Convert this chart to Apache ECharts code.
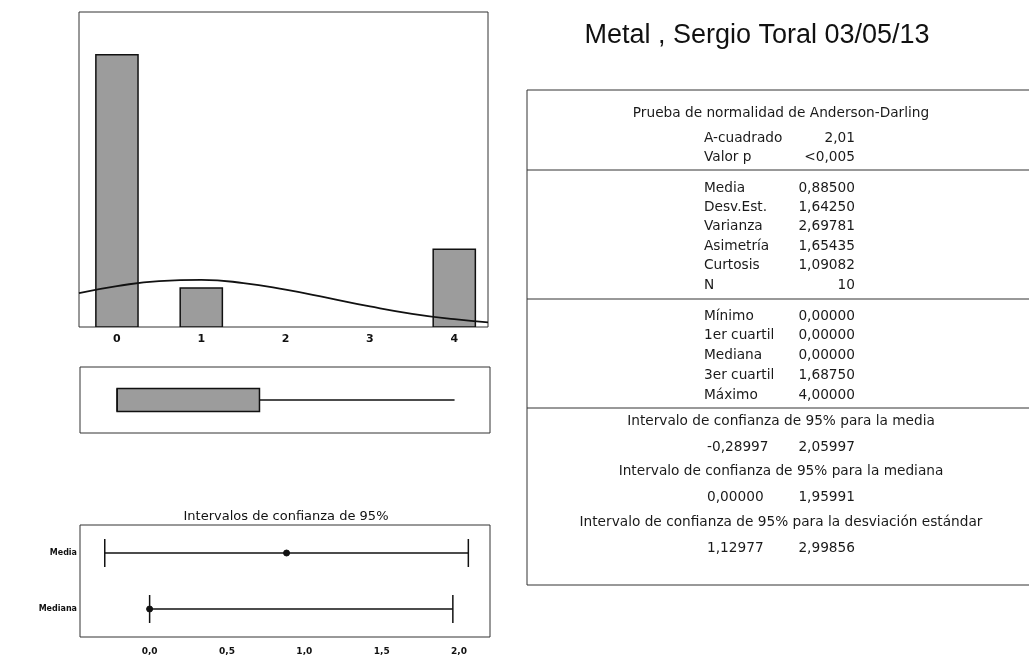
<!DOCTYPE html>
<html>
<head>
<meta charset="utf-8">
<script src="https://cdn.jsdelivr.net/npm/echarts@6/dist/echarts.min.js"></script>
<style>
  html, body { margin: 0; padding: 0; background: #ffffff; }
  #chart { width: 1029px; height: 672px; }
</style>
</head>
<body>
<div id="chart"></div>
<script>
// ---------- DATA ----------
const chartTitle = 'Metal , Sergio Toral 03/05/13';

// histogram bins: [start, end, count]
const binStart = [-0.25, 0.75, 3.75];
const binEnd   = [0.25, 1.25, 4.25];
const binCount = [7, 1, 2];
const histTicks = [0, 1, 2, 3, 4];

// fitted normal curve
const curveX = [-0.45, 0, 0.5, 1, 1.5, 2, 2.5, 3, 3.5, 4, 4.4];
const curveY = [0.87, 1.05, 1.18, 1.21, 1.13, 0.96, 0.75, 0.53, 0.34, 0.20, 0.12];

// boxplot: min, Q1, median, Q3, max
const boxStats = [0.0, 0.0, 0.0, 1.6875, 4.0];

// confidence intervals
const ciTitle = 'Intervalos de confianza de 95%';
const ciNames = ['Media', 'Mediana'];
const ciLow   = [-0.28997, 0.00000];
const ciHigh  = [2.05997, 1.95991];
const ciEst   = [0.885, 0.0];
const ciTicks = [0, 0.5, 1, 1.5, 2];

// summary table
const adHeader = 'Prueba de normalidad de Anderson-Darling';
const adLabels = ['A-cuadrado', 'Valor p'];
const adValues = ['2,01', '<0,005'];
const descLabels = ['Media', 'Desv.Est.', 'Varianza', 'Asimetría', 'Curtosis', 'N'];
const descValues = ['0,88500', '1,64250', '2,69781', '1,65435', '1,09082', '10'];
const quartLabels = ['Mínimo', '1er cuartil', 'Mediana', '3er cuartil', 'Máximo'];
const quartValues = ['0,00000', '0,00000', '0,00000', '1,68750', '4,00000'];
const ciTableHeaders = [
  'Intervalo de confianza de 95% para la media',
  'Intervalo de confianza de 95% para la mediana',
  'Intervalo de confianza de 95% para la desviación estándar'
];
const ciTableLow  = ['-0,28997', '0,00000', '1,12977'];
const ciTableHigh = ['2,05997', '1,95991', '2,99856'];

// ---------- CHART ----------
const chart = echarts.init(document.getElementById('chart'), null, { renderer: 'canvas' });

const tableFont = '13.7px "DejaVu Sans", sans-serif';
const TXT = '#1a1a1a';
const graphics = [];

// table frame and separators
graphics.push({ type: 'rect', shape: { x: 527, y: 90, width: 600, height: 495 },
  style: { fill: 'none', stroke: '#333', lineWidth: 1 } });
[170, 299, 408].forEach(y => graphics.push({ type: 'line',
  shape: { x1: 527, y1: y, x2: 1029, y2: y }, style: { stroke: '#333', lineWidth: 1 } }));

function centerText(t, y) {
  graphics.push({ type: 'text', x: 781, y: y, style: { text: t, font: tableFont,
    fill: TXT, align: 'center', verticalAlign: 'middle' } });
}
function rowText(label, value, y) {
  graphics.push({ type: 'text', x: 704, y: y, style: { text: label, font: tableFont,
    fill: TXT, align: 'left', verticalAlign: 'middle' } });
  graphics.push({ type: 'text', x: 855, y: y, style: { text: value, font: tableFont,
    fill: TXT, align: 'right', verticalAlign: 'middle' } });
}
centerText(adHeader, 113);
adLabels.forEach((l, i) => rowText(l, adValues[i], 138 + i * 19.5));
descLabels.forEach((l, i) => rowText(l, descValues[i], 188 + i * 19.4));
quartLabels.forEach((l, i) => rowText(l, quartValues[i], 316 + i * 19.8));
ciTableHeaders.forEach((h, i) => {
  const y = 421 + i * 50.5;
  centerText(h, y);
  graphics.push({ type: 'text', x: 707, y: y + 26, style: { text: ciTableLow[i],
    font: tableFont, fill: TXT, align: 'left', verticalAlign: 'middle' } });
  graphics.push({ type: 'text', x: 855, y: y + 26, style: { text: ciTableHigh[i],
    font: tableFont, fill: TXT, align: 'right', verticalAlign: 'middle' } });
});

const histData = binStart.map((s, i) => [s, binEnd[i], binCount[i]]);
const curveData = curveX.map((x, i) => [x, curveY[i]]);
const ciData = ciNames.map((n, i) => [i === 0 ? 1 : 0, ciLow[i], ciHigh[i], ciEst[i]]);

const axisLabelFont = { fontFamily: '"DejaVu Sans", sans-serif', fontWeight: 'bold', color: '#111' };

const option = {
  backgroundColor: '#ffffff',
  animation: false,
  title: [
    { text: chartTitle, left: 752, top: 31, textAlign: 'center', textVerticalAlign: 'middle',
      textStyle: { fontFamily: '"Liberation Sans", Arial, sans-serif', fontSize: 27,
        fontWeight: 'normal', color: '#111' } },
    { text: ciTitle, left: 281, top: 512, textAlign: 'center', textVerticalAlign: 'middle',
      textStyle: { fontFamily: '"DejaVu Sans", sans-serif', fontSize: 13,
        fontWeight: 'normal', color: '#111' } }
  ],
  grid: [
    { left: 79, top: 12, width: 409, height: 315, show: true, borderColor: '#333', borderWidth: 1,
      backgroundColor: '#fff', outerBoundsMode: 'none' },
    { left: 80, top: 367, width: 410, height: 66, show: true, borderColor: '#333', borderWidth: 1,
      backgroundColor: '#fff', outerBoundsMode: 'none' },
    { left: 80, top: 525, width: 410, height: 112, show: true, borderColor: '#333', borderWidth: 1,
      backgroundColor: '#fff', outerBoundsMode: 'none' }
  ],
  xAxis: [
    { type: 'value', gridIndex: 0, min: -0.45, max: 4.4, splitLine: { show: false },
      axisLine: { show: false }, axisTick: { show: false },
      axisLabel: Object.assign({ customValues: histTicks, fontSize: 11, margin: 7 }, axisLabelFont) },
    { type: 'value', gridIndex: 1, min: -0.44, max: 4.42, show: false, splitLine: { show: false } },
    { type: 'value', gridIndex: 2, min: -0.45, max: 2.2, splitLine: { show: false },
      axisLine: { show: false }, axisTick: { show: false },
      axisLabel: Object.assign({ customValues: ciTicks, fontSize: 9, margin: 10,
        formatter: v => v.toFixed(1).replace('.', ',') }, axisLabelFont) }
  ],
  yAxis: [
    { type: 'value', gridIndex: 0, min: 0, max: 8.1, show: false, splitLine: { show: false } },
    { type: 'value', gridIndex: 1, min: 0, max: 1, show: false, splitLine: { show: false } },
    { type: 'category', gridIndex: 2, data: ['Mediana', 'Media'], splitLine: { show: false },
      axisLine: { show: false }, axisTick: { show: false },
      axisLabel: Object.assign({ fontSize: 8, margin: 3 }, axisLabelFont) }
  ],
  series: [
    {
      type: 'custom', xAxisIndex: 0, yAxisIndex: 0, data: histData, clip: true,
      renderItem: (params, api) => {
        const p0 = api.coord([api.value(0), api.value(2)]);
        const p1 = api.coord([api.value(1), 0]);
        return { type: 'rect', shape: { x: p0[0], y: p0[1], width: p1[0] - p0[0], height: p1[1] - p0[1] },
          style: { fill: '#9c9c9c', stroke: '#111', lineWidth: 1.5 } };
      }
    },
    {
      type: 'line', xAxisIndex: 0, yAxisIndex: 0, data: curveData, smooth: true, symbol: 'none',
      clip: true, lineStyle: { color: '#111', width: 1.8 }, z: 5
    },
    {
      type: 'custom', xAxisIndex: 1, yAxisIndex: 1, data: [boxStats],
      renderItem: (params, api) => {
        const yc = api.coord([0, 0.5])[1];
        const h = 23;
        const pMin = api.coord([api.value(0), 0.5]);
        const pQ1 = api.coord([api.value(1), 0.5]);
        const pMed = api.coord([api.value(2), 0.5]);
        const pQ3 = api.coord([api.value(3), 0.5]);
        const pMax = api.coord([api.value(4), 0.5]);
        return { type: 'group', children: [
          { type: 'line', shape: { x1: pQ3[0], y1: yc, x2: pMax[0], y2: yc }, style: { stroke: '#111', lineWidth: 1.5 } },
          { type: 'line', shape: { x1: pMin[0], y1: yc, x2: pQ1[0], y2: yc }, style: { stroke: '#111', lineWidth: 1.5 } },
          { type: 'rect', shape: { x: pQ1[0], y: yc - h / 2, width: pQ3[0] - pQ1[0], height: h },
            style: { fill: '#9c9c9c', stroke: '#111', lineWidth: 1.5 } },
          { type: 'line', shape: { x1: pMed[0], y1: yc - h / 2, x2: pMed[0], y2: yc + h / 2 }, style: { stroke: '#111', lineWidth: 1.5 } }
        ] };
      }
    },
    {
      type: 'custom', xAxisIndex: 2, yAxisIndex: 2, data: ciData,
      renderItem: (params, api) => {
        const cat = api.value(0);
        const pL = api.coord([api.value(1), cat]);
        const pH = api.coord([api.value(2), cat]);
        const pE = api.coord([api.value(3), cat]);
        const hc = 14;
        const st = { stroke: '#111', lineWidth: 1.5 };
        return { type: 'group', children: [
          { type: 'line', shape: { x1: pL[0], y1: pL[1], x2: pH[0], y2: pH[1] }, style: st },
          { type: 'line', shape: { x1: pL[0], y1: pL[1] - hc, x2: pL[0], y2: pL[1] + hc }, style: st },
          { type: 'line', shape: { x1: pH[0], y1: pH[1] - hc, x2: pH[0], y2: pH[1] + hc }, style: st },
          { type: 'circle', shape: { cx: pE[0], cy: pE[1], r: 3 }, style: { fill: '#111', stroke: '#111' } }
        ] };
      }
    }
  ],
  graphic: graphics
};
chart.setOption(option);
</script>
</body>
</html>
